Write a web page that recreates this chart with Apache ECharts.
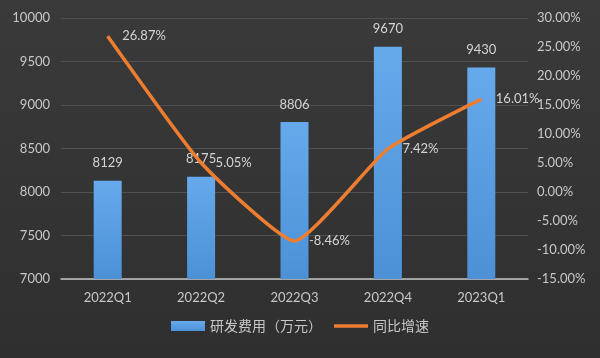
<!DOCTYPE html>
<html><head><meta charset="utf-8">
<script src="https://cdn.jsdelivr.net/npm/echarts@6/dist/echarts.min.js"></script>
<style>html,body{margin:0;padding:0;background:#333;}#c{width:600px;height:358px;}</style>
</head><body><div id="c"></div>
<script>
const categories = ['2022Q1','2022Q2','2022Q3','2022Q4','2023Q1'];
const rdExpense = [8129, 8175, 8806, 9670, 9430];
const yoyGrowth = [26.87, 5.05, -8.46, 7.42, 16.01];
const seriesNames = ['研发费用（万元）', '同比增速'];

const FONT = 'Lato, "Noto Sans CJK SC", sans-serif';
const chart = echarts.init(document.getElementById('c'), null, {renderer:'canvas'});
chart.setOption({
  backgroundColor: {
    type:'linear', x:0, y:0, x2:0, y2:1,
    colorStops:[{offset:0,color:'#3a3a3a'},{offset:1,color:'#2f2f2f'}]
  },
  textStyle:{fontFamily:FONT},
  animation:false,
  grid:{left:61, right:72, top:18, bottom:79},
  legend:{
    bottom:20, left:'center', itemWidth:34, itemHeight:10, itemGap:12,
    textStyle:{color:'#c8c8c8', fontSize:14, fontFamily:FONT},
    data:[{name:seriesNames[0], icon:'rect'},
          {name:seriesNames[1], icon:'path://M0,0H37V4H0Z'}]
  },
  xAxis:{
    type:'category', data:categories,
    axisLine:{onZero:false, lineStyle:{color:'#c4c4c4', width:1.5}},
    axisTick:{show:false},
    axisLabel:{color:'#c8c8c8', fontSize:13, margin:12, fontFamily:FONT}
  },
  yAxis:[{
    type:'value', min:7000, max:10000, interval:500,
    axisLine:{show:false}, axisTick:{show:false},
    axisLabel:{color:'#c8c8c8', fontSize:13, margin:11, fontFamily:FONT, formatter:v=>String(v)},
    splitLine:{lineStyle:{color:'#505050', width:1}}
  },{
    type:'value', min:-15, max:30, interval:5,
    axisLine:{show:false}, axisTick:{show:false},
    axisLabel:{color:'#c8c8c8', fontSize:13, margin:9, fontFamily:FONT,
      formatter:v=>v.toFixed(2)+'%'},
    splitLine:{show:false}
  }],
  series:[{
    name:seriesNames[0], type:'bar', data:rdExpense, barWidth:28,
    itemStyle:{color:{type:'linear',x:0,y:0,x2:0,y2:1,
      colorStops:[{offset:0,color:'#66aaec'},{offset:1,color:'#4c90d6'}]}},
    label:{show:true, position:'top', distance:11, color:'#d4d4d4', fontSize:13, fontFamily:FONT}
  },{
    name:seriesNames[1], type:'line', yAxisIndex:1, data:yoyGrowth,
    smooth:0.15, symbol:'circle', symbolSize:1,
    itemStyle:{color:'#ed7d31'},
    lineStyle:{color:'#ed7d31', width:3.5},
    label:{show:true, position:'right', distance:14, color:'#d4d4d4', fontSize:13, fontFamily:FONT,
      formatter:p=>p.value.toFixed(2)+'%'}
  }]
});
</script></body></html>
